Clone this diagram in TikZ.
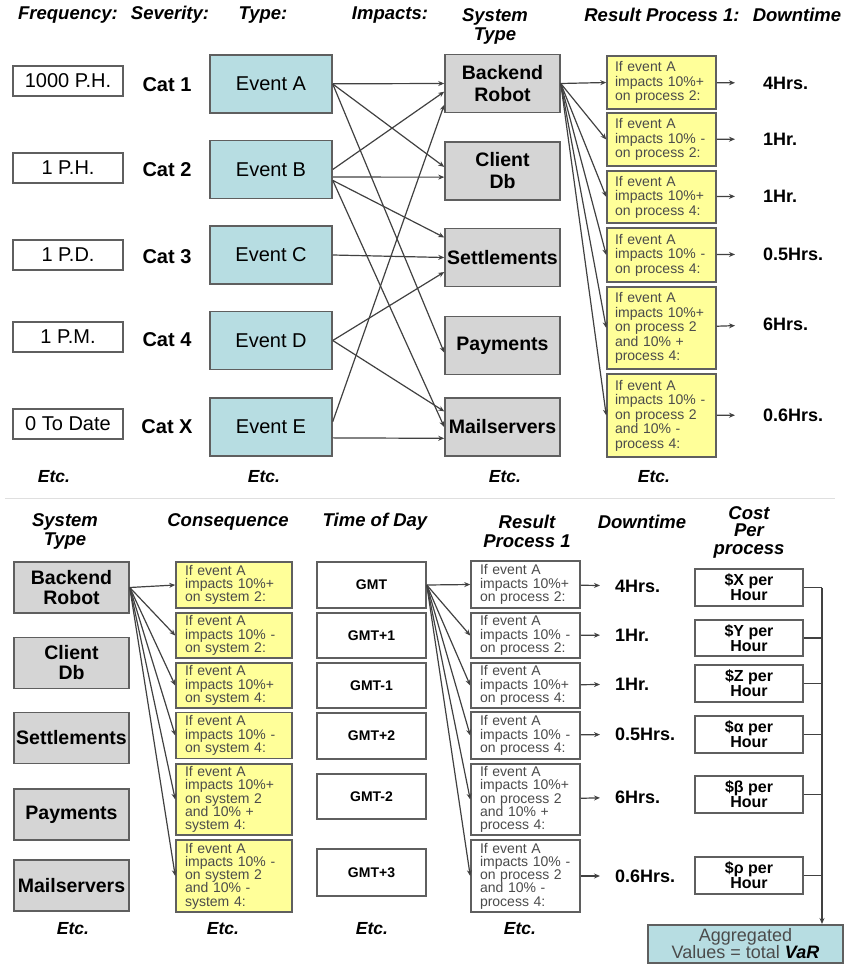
\documentclass[tikz,border=0pt]{standalone}
\usepackage{fontspec}
\setmainfont{Liberation Sans}
\usepackage{xcolor}
\usetikzlibrary{positioning,arrows.meta}
\definecolor{eventblue}{RGB}{183,221,226}
\definecolor{sysgray}{RGB}{213,213,213}
\definecolor{noteyellow}{RGB}{255,255,153}
\definecolor{edgegray}{RGB}{95,95,95}
\definecolor{linegray}{RGB}{65,65,65}
\definecolor{notetext}{RGB}{75,75,75}
\tikzset{
	boxbase/.style={rectangle, draw=edgegray, line width=1.5pt, inner sep=0pt},
	freqnode/.style={boxbase, fill=white, minimum width=110pt, minimum height=30pt, font=\fontsize{20}{22}\selectfont},
	catnode/.style={inner sep=0pt, font=\bfseries\fontsize{20}{22}\selectfont},
	eventnode/.style={boxbase, fill=eventblue, minimum width=122pt, minimum height=58pt, font=\fontsize{20}{22}\selectfont},
	sysnode/.style={boxbase, fill=sysgray, minimum width=115pt, minimum height=58pt, align=center, font=\bfseries\fontsize{19.5}{22}\selectfont},
	sysnodeb/.style={sysnode, minimum height=51pt, font=\bfseries\fontsize{19.5}{20}\selectfont},
	notenode/.style={boxbase, fill=noteyellow, text=notetext, align=left, text width=93pt, inner xsep=8pt, font=\fontsize{14}{14.5}\selectfont},
	notenodeb/.style={notenode, text width=98pt, inner xsep=9pt, font=\fontsize{14}{13.3}\selectfont},
	resnode/.style={notenodeb, fill=white, text width=91pt},
	gmtnode/.style={boxbase, fill=white, minimum width=109pt, font=\bfseries\fontsize{14}{16}\selectfont},
	costnode/.style={boxbase, fill=white, minimum width=108pt, align=center, font=\bfseries\fontsize{16}{15}\selectfont},
	hoursnode/.style={anchor=west, inner sep=0pt, font=\bfseries\fontsize{18}{20}\selectfont},
	headnode/.style={inner sep=0pt, align=center, font=\bfseries\itshape\fontsize{18.5}{19}\selectfont},
	etcnode/.style={inner sep=0pt, font=\bfseries\itshape\fontsize{17.5}{19}\selectfont},
	link/.style={draw=linegray, line width=1.2pt}
}

\begin{document}
\begin{tikzpicture}[x=1pt, y=-1pt, >={Stealth[length=6pt,width=5pt]}]
	\useasboundingbox (0,0) rectangle (855,966);
	\clip (0,0) rectangle (855,966);

	%Headers (upper part)
	\node[headnode] at (68,15) (hFreq) {Frequency:};
	\node[headnode] at (170,15) (hSev) {Severity:};
	\node[headnode] at (263,15) (hType) {Type:};
	\node[headnode] at (390,15) (hImp) {Impacts:};
	\node[headnode] at (495,26) (hSys) {System\\Type};
	\node[headnode] at (662,15) (hRes) {Result Process 1:};
	\node[headnode] at (797,15) (hDown) {Downtime};

	\node[freqnode] at (68,81) (f1) {1000 P.H.};
	\node[freqnode] at (68,168) (f2) {1 P.H.};
	\node[freqnode] at (68,255) (f3) {1 P.D.};
	\node[freqnode] at (68,337) (f4) {1 P.M.};
	\node[freqnode] at (68,424) (f5) {0 To Date};

	\node[catnode] at (167,85) (c1) {Cat 1};
	\node[catnode] at (167,170) (c2) {Cat 2};
	\node[catnode] at (167,257) (c3) {Cat 3};
	\node[catnode] at (167,340) (c4) {Cat 4};
	\node[catnode] at (167,427) (c5) {Cat X};

	\node[eventnode] at (271,84) (eA) {Event A};
	\node[eventnode] at (271,169.5) (eB) {Event B};
	\node[eventnode] at (271,255) (eC) {Event C};
	\node[eventnode] at (271,340.5) (eD) {Event D};
	\node[eventnode] at (271,427) (eE) {Event E};

	\node[sysnode] at (502.5,83.5) (bk) {Backend\\Robot};
	\node[sysnode] at (502.5,171) (cdb) {Client\\Db};
	\node[sysnode] at (502.5,257.5) (sett) {Settlements};
	\node[sysnode] at (502.5,345.5) (pay) {Payments};
	\node[sysnode] at (502.5,427) (mail) {Mailservers};

	\node[notenode, minimum height=53pt] at (661.5,82.5) (y1) {If event A\\impacts 10\%+\\on process 2:};
	\node[notenode, minimum height=53pt] at (661.5,139.5) (y2) {If event A\\impacts 10\% -\\on process 2:};
	\node[notenode, minimum height=52pt] at (661.5,197) (y3) {If event A\\impacts 10\%+\\on process 4:};
	\node[notenode, minimum height=54pt] at (661.5,255) (y4) {If event A\\impacts 10\% -\\on process 4:};
	\node[notenode, minimum height=82pt] at (661.5,328) (y5) {If event A\\impacts 10\%+\\on process 2\\and 10\% +\\process 4:};
	\node[notenode, minimum height=83pt] at (661.5,415.5) (y6) {If event A\\impacts 10\% -\\on process 2\\and 10\% -\\process 4:};

	\node[hoursnode] at (763,83) (h1) {4Hrs.};
	\node[hoursnode] at (763,139) (h2) {1Hr.};
	\node[hoursnode] at (763,196) (h3) {1Hr.};
	\node[hoursnode] at (763,254) (h4) {0.5Hrs.};
	\node[hoursnode] at (763,324) (h5) {6Hrs.};
	\node[hoursnode] at (763,415) (h6) {0.6Hrs.};

	\node[etcnode] at (54,477) (etc1) {Etc.};
	\node[etcnode] at (264,477) (etc2) {Etc.};
	\node[etcnode] at (505,477) (etc3) {Etc.};
	\node[etcnode] at (654,477) (etc4) {Etc.};

	%Lines
	\draw[->, link] (eA) -- (bk.west);
	\draw[->, link] (eA.east) -- (cdb.176);
	\draw[->, link] (eA.east) -- (pay.187);
	\draw[->, link] (eB.east) -- (bk.188);
	\draw[->, link] (eB.353) -- (cdb.186);
	\draw[->, link] (eB.350) -- (sett.161);
	\draw[->, link] (eB.350) -- (mail.180);
	\draw[->, link] (eC.east) -- (sett.west);
	\draw[->, link] (eD.east) -- (sett.194);
	\draw[->, link] (eD.east) -- (mail.165);
	\draw[->, link] (eE.5) -- (bk.200);
	\draw[->, link] (eE.350) -- (mail.191);

	\draw[->, link] (bk.east) -- (y1.west);
	\draw[->, link] (bk.east) -- (y2.west);
	\draw[->, link] (bk.east) -- (y3.west);
	\draw[->, link] (bk.east) -- (y4.west);
	\draw[->, link] (bk.east) -- (y5.west);
	\draw[->, link] (bk.east) -- (y6.west);

	\draw[->, link, shorten >=28pt] (y1) -- (h1);
	\draw[->, link, shorten >=28pt] (y2) -- (h2);
	\draw[->, link, shorten >=28pt] (y3) -- (h3);
	\draw[->, link, shorten >=28pt] (y4) -- (h4);
	\draw[->, link, shorten >=28pt] (y5) -- (h5);
	\draw[->, link, shorten >=28pt] (y6) -- (h6);

	\draw[gray!25, line width=1pt] (5,498) -- (835,498);

	%Headers (lower part)
	\node[headnode] at (65,531) (bSys) {System\\Type};
	\node[headnode] at (228,522) (bCons) {Consequence};
	\node[headnode] at (375,522) (bTime) {Time of Day};
	\node[headnode] at (527,531) (bRes) {Result\\Process 1};
	\node[headnode] at (642,522) (bDown) {Downtime};
	\node[headnode, font=\bfseries\itshape\fontsize{18.5}{17.5}\selectfont] at (749,532) (bCost) {Cost\\Per\\process};

	\node[sysnodeb] at (71.5,587.5) (bkb) {Backend\\Robot};
	\node[sysnodeb] at (71.5,663) (cdbb) {Client\\Db};
	\node[sysnodeb] at (71.5,738) (settb) {Settlements};
	\node[sysnodeb] at (71.5,814.5) (payb) {Payments};
	\node[sysnodeb] at (71.5,885.5) (mailb) {Mailservers};

	\node[notenodeb, minimum height=46pt] at (234,585) (q1) {If event A\\impacts 10\%+\\on system 2:};
	\node[notenodeb, minimum height=45pt] at (234,635.5) (q2) {If event A\\impacts 10\% -\\on system 2:};
	\node[notenodeb, minimum height=45pt] at (234,685.5) (q3) {If event A\\impacts 10\%+\\on system 4:};
	\node[notenodeb, minimum height=46pt] at (234,735.5) (q4) {If event A\\impacts 10\% -\\on system 4:};
	\node[notenodeb, minimum height=71pt] at (234,799.5) (q5) {If event A\\impacts 10\%+\\on system 2\\and 10\% +\\system 4:};
	\node[notenodeb, minimum height=72pt] at (234,876) (q6) {If event A\\impacts 10\% -\\on system 2\\and 10\% -\\system 4:};

	\node[gmtnode, minimum height=46pt] at (371.5,585) (g1) {GMT};
	\node[gmtnode, minimum height=45pt] at (371.5,635.5) (g2) {GMT+1};
	\node[gmtnode, minimum height=45pt] at (371.5,685.5) (g3) {GMT-1};
	\node[gmtnode, minimum height=46pt] at (371.5,736) (g4) {GMT+2};
	\node[gmtnode, minimum height=45pt] at (371.5,796.5) (g5) {GMT-2};
	\node[gmtnode, minimum height=47pt] at (371.5,872.5) (g6) {GMT+3};

	\node[resnode, minimum height=47pt] at (525.5,584.5) (r1) {If event A\\impacts 10\%+\\on process 2:};
	\node[resnode, minimum height=45pt] at (525.5,635.5) (r2) {If event A\\impacts 10\% -\\on process 2:};
	\node[resnode, minimum height=45pt] at (525.5,685.5) (r3) {If event A\\impacts 10\%+\\on process 4:};
	\node[resnode, minimum height=47pt] at (525.5,735.5) (r4) {If event A\\impacts 10\% -\\on process 4:};
	\node[resnode, minimum height=71pt] at (525.5,799.5) (r5) {If event A\\impacts 10\%+\\on process 2\\and 10\% +\\process 4:};
	\node[resnode, minimum height=72pt] at (525.5,876) (r6) {If event A\\impacts 10\% -\\on process 2\\and 10\% -\\process 4:};

	\node[hoursnode] at (615,586) (d1) {4Hrs.};
	\node[hoursnode] at (615,635) (d2) {1Hr.};
	\node[hoursnode] at (615,684) (d3) {1Hr.};
	\node[hoursnode] at (615,734) (d4) {0.5Hrs.};
	\node[hoursnode] at (615,797) (d5) {6Hrs.};
	\node[hoursnode] at (615,876) (d6) {0.6Hrs.};

	\node[costnode, minimum height=37pt] at (749,587.5) (k1) {\$X per\\Hour};
	\node[costnode, minimum height=36pt] at (749,638) (k2) {\$Y per\\Hour};
	\node[costnode, minimum height=37pt] at (749,683.5) (k3) {\$Z per\\Hour};
	\node[costnode, minimum height=37pt] at (749,734.5) (k4) {\$α per\\Hour};
	\node[costnode, minimum height=37pt] at (749,794.5) (k5) {\$β per\\Hour};
	\node[costnode, minimum height=37pt] at (749,875.5) (k6) {\$ρ per\\Hour};

	\node[boxbase, fill=eventblue, anchor=north, minimum width=195pt, inner ysep=4pt, align=center, text=notetext, font=\fontsize{18}{17}\selectfont] at (745.5,924) (agg) {Aggregated\\Values = total \textcolor{black}{\bfseries\itshape VaR}};

	\node[etcnode] at (73,929) (etc5) {Etc.};
	\node[etcnode] at (223,929) (etc6) {Etc.};
	\node[etcnode] at (372,929) (etc7) {Etc.};
	\node[etcnode] at (520,929) (etc8) {Etc.};

	%Lines
	\draw[->, link] (bkb.east) -- (q1.west);
	\draw[->, link] (bkb.east) -- (q2.west);
	\draw[->, link] (bkb.east) -- (q3.west);
	\draw[->, link] (bkb.east) -- (q4.west);
	\draw[->, link] (bkb.east) -- (q5.west);
	\draw[->, link] (bkb.east) -- (q6.west);

	\draw[->, link] (g1.east) -- (r1.west);
	\draw[->, link] (g1.east) -- (r2.west);
	\draw[->, link] (g1.east) -- (r3.west);
	\draw[->, link] (g1.east) -- (r4.west);
	\draw[->, link] (g1.east) -- (r5.west);
	\draw[->, link] (g1.east) -- (r6.west);

	\draw[->, link, shorten >=15pt] (r1) -- (d1);
	\draw[->, link, shorten >=15pt] (r2) -- (d2);
	\draw[->, link, shorten >=15pt] (r3) -- (d3);
	\draw[->, link, shorten >=15pt] (r4) -- (d4);
	\draw[->, link, shorten >=15pt] (r5) -- (d5);
	\draw[->, link, shorten >=15pt] (r6) -- (d6);

	\coordinate (bus) at (822,587.5);
	\draw[link] (k1.east) -- (k1.east -| bus);
	\draw[link] (k2.east) -- (k2.east -| bus);
	\draw[link] (k3.east) -- (k3.east -| bus);
	\draw[link] (k4.east) -- (k4.east -| bus);
	\draw[link] (k5.east) -- (k5.east -| bus);
	\draw[link] (k6.east) -- (k6.east -| bus);
	\draw[->, link] (bus) -- (bus |- agg.north);

\end{tikzpicture}
\end{document}
